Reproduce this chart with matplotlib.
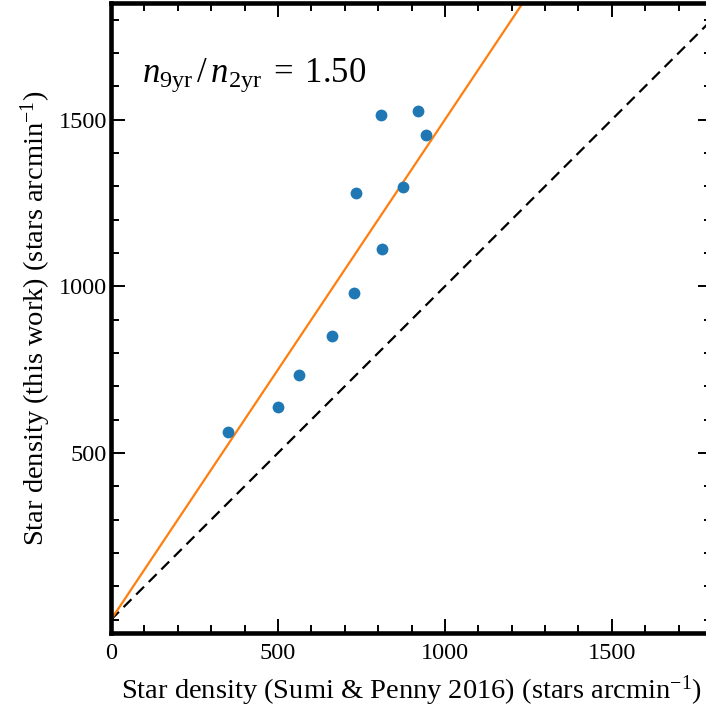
import matplotlib
matplotlib.use("Agg")
import matplotlib.pyplot as plt
import numpy as np

plt.rcParams["font.family"] = ["Liberation Serif", "DejaVu Serif"]
plt.rcParams["mathtext.fontset"] = "custom"
plt.rcParams["mathtext.rm"] = "Liberation Serif"
plt.rcParams["mathtext.it"] = "Liberation Serif:italic"
plt.rcParams["mathtext.bf"] = "Liberation Serif:bold"

# Star densities per field (stars arcmin^-1)
density_sumi_penny = [350, 501, 564, 662, 727, 812, 733, 874, 810, 920, 942]
density_this_work = [562, 638, 735, 850, 980, 1111, 1281, 1298, 1514, 1525, 1453]
ratio = 1.50

x_ticks = [0, 500, 1000, 1500]
y_ticks = [500, 1000, 1500]

fig = plt.figure(figsize=(7.06, 7.08), dpi=100)
ax = fig.add_axes([111.0 / 706, 75.0 / 708, 601.0 / 706, 630.0 / 708])

ax.set_xlim(0, 1800)
ax.set_ylim(-40, 1850)

line = np.array([0, 2000])
ax.plot(line, line, ls="--", color="black", lw=1.6, dashes=(5, 3))
ax.plot(line, ratio * line, color="#ff7f0e", lw=1.6)
ax.plot(density_sumi_penny, density_this_work, "o", color="#1f77b4",
        markersize=8.5, markeredgewidth=0)

ax.text(0.052, 0.885,
        r"$n_{9\mathrm{yr}}\,/\,n_{2\mathrm{yr}}\;=\;%.2f$" % ratio,
        transform=ax.transAxes, fontsize=25, va="center", ha="left")

ax.set_xticks(x_ticks)
ax.set_yticks(y_ticks)
ax.set_xticks(np.arange(0, 1801, 100), minor=True)
ax.set_yticks(np.arange(0, 1801, 100), minor=True)
ax.tick_params(which="both", direction="in", top=True, right=True,
               labelsize=17.5, pad=3)
ax.tick_params(axis="x", which="both", pad=7)
ax.tick_params(which="major", length=10, width=1.4)
ax.tick_params(which="minor", length=5.5, width=1.4)
for sp in ax.spines.values():
    sp.set_linewidth(3.3)

ax.set_xlabel(r"Star density (Sumi & Penny 2016) (stars arcmin$^{-1}$)",
              fontsize=20.5, labelpad=7)
ax.set_ylabel(r"Star density (this work) (stars arcmin$^{-1}$)",
              fontsize=20.5, labelpad=4)

fig.savefig("out.png", dpi=100)
